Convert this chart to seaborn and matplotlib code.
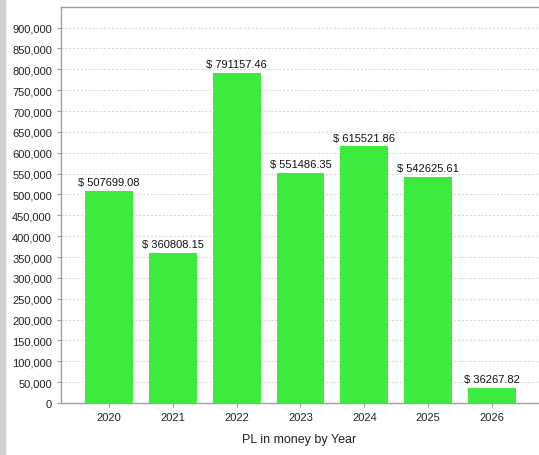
import matplotlib
matplotlib.use("Agg")
import matplotlib.pyplot as plt
import matplotlib.ticker as mticker
import seaborn as sns
import pandas as pd

years = ["2020", "2021", "2022", "2023", "2024", "2025", "2026"]
values = [507699.08, 360808.15, 791157.46, 551486.35, 615521.86, 542625.61, 36267.82]
x_label = "PL in money by Year"

sns.set_theme(style="white")
plt.rcParams['font.family'] = ['Liberation Sans', 'DejaVu Sans']

df = pd.DataFrame({"Year": years, "PL": values})

fig = plt.figure(figsize=(5.39, 4.56), dpi=100)
ax = fig.add_axes([61/539, 52/456, (538-61)/539, (448-52)/456])

sns.barplot(data=df, x="Year", y="PL", color="#3DEB3D", saturation=1, width=0.75,
            linewidth=0, edgecolor="none", ax=ax, zorder=3)

ax.set_xlim(-0.75, 6.72)
ax.set_ylim(0, max(values) * 1.2)
ax.yaxis.set_major_locator(mticker.MultipleLocator(50000))
ax.yaxis.set_major_formatter(mticker.FuncFormatter(lambda v, p: f"{int(v):,}"))
ax.grid(axis="y", color="#d4d4d4", linestyle=(0, (2, 2)), linewidth=0.7, zorder=0)
ax.set_axisbelow(True)

for s in ["left", "bottom", "top"]:
    ax.spines[s].set_color("#a0a0a0")
    ax.spines[s].set_linewidth(1.0)
ax.spines["right"].set_visible(False)

ax.tick_params(axis="both", labelsize=8, colors="#a0a0a0", labelcolor="#222222", length=3, width=0.8, direction="out", left=True, bottom=True)
ax.set_ylabel("")
ax.set_xlabel(x_label, fontsize=9, color="#222222", labelpad=8)

for i, v in enumerate(values):
    ax.text(i, v + 9000, f"$ {v:.2f}", ha="center", va="bottom", fontsize=8, color="#111111")

# window border strip on the left
fig.patches.append(plt.Rectangle((0, 0), 5/539, 1, transform=fig.transFigure, color="#d0d0d0", zorder=0))

fig.savefig("out.png", dpi=100)
